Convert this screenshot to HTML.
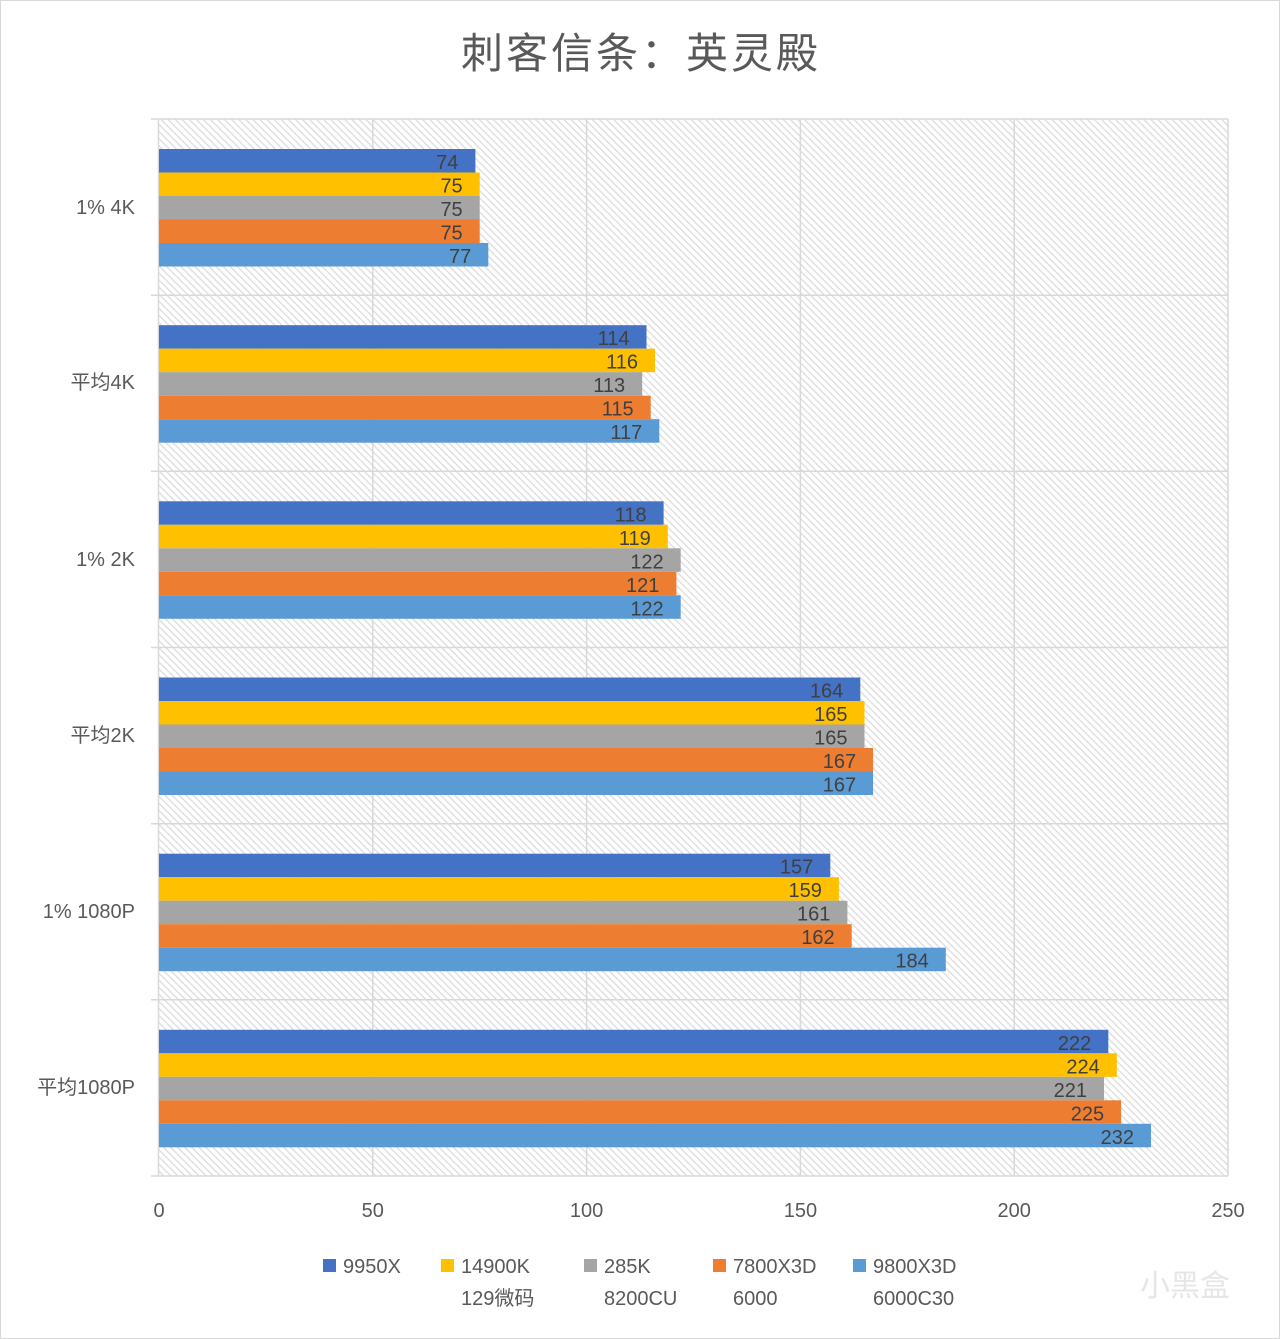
<!DOCTYPE html>
<html><head><meta charset="utf-8"><style>
html,body{margin:0;padding:0;background:#fff}
svg{display:block}
text{font-family:"Liberation Sans","Noto Sans CJK SC",sans-serif}
</style></head><body>
<svg width="1280" height="1339" viewBox="0 0 1280 1339" xmlns="http://www.w3.org/2000/svg">
<defs>
<pattern id="h" width="5" height="5" patternUnits="userSpaceOnUse" patternTransform="rotate(45)">
<rect width="5" height="5" fill="#fff"/>
<rect width="5" height="1.3" fill="#dcdcdc"/>
</pattern>
</defs>
<rect x="0.5" y="0.5" width="1279" height="1338" fill="#fff" stroke="#d9d9d9"/>
<text x="641" y="68" font-size="42" fill="#595959" text-anchor="middle" letter-spacing="3">刺客信条：英灵殿</text>
<rect x="159" y="119" width="1069" height="1057" fill="url(#h)"/>
<g stroke="#d9d9d9" stroke-width="1.5">
<line x1="372.8" y1="119" x2="372.8" y2="1176"/>
<line x1="586.6" y1="119" x2="586.6" y2="1176"/>
<line x1="800.4" y1="119" x2="800.4" y2="1176"/>
<line x1="1014.2" y1="119" x2="1014.2" y2="1176"/>
<line x1="1228" y1="119" x2="1228" y2="1176"/>
<line x1="151" y1="119" x2="1228" y2="119"/>
<line x1="151" y1="295.2" x2="1228" y2="295.2"/>
<line x1="151" y1="471.3" x2="1228" y2="471.3"/>
<line x1="151" y1="647.5" x2="1228" y2="647.5"/>
<line x1="151" y1="823.7" x2="1228" y2="823.7"/>
<line x1="151" y1="999.8" x2="1228" y2="999.8"/>
<line x1="151" y1="1176" x2="1228" y2="1176"/>
<line x1="158.5" y1="119" x2="158.5" y2="1176"/>
</g>
<g font-size="20" fill="#404040" text-anchor="end">
<g transform="translate(0,149)">
<rect x="159" y="0" width="316.4" height="23.5" fill="#4472C4"/>
<rect x="159" y="23.5" width="320.7" height="23.5" fill="#FFC000"/>
<rect x="159" y="47" width="320.7" height="23.5" fill="#A5A5A5"/>
<rect x="159" y="70.5" width="320.7" height="23.5" fill="#ED7D31"/>
<rect x="159" y="94" width="329.3" height="23.5" fill="#5B9BD5"/>
<text x="458.4" y="20">74</text><text x="462.7" y="43.5">75</text><text x="462.7" y="67">75</text><text x="462.7" y="90.5">75</text><text x="471.3" y="114">77</text>
</g>
<g transform="translate(0,325.2)">
<rect x="159" y="0" width="487.5" height="23.5" fill="#4472C4"/>
<rect x="159" y="23.5" width="496" height="23.5" fill="#FFC000"/>
<rect x="159" y="47" width="483.2" height="23.5" fill="#A5A5A5"/>
<rect x="159" y="70.5" width="491.7" height="23.5" fill="#ED7D31"/>
<rect x="159" y="94" width="500.3" height="23.5" fill="#5B9BD5"/>
<text x="629.5" y="20">114</text><text x="638" y="43.5">116</text><text x="625.2" y="67">113</text><text x="633.7" y="90.5">115</text><text x="642.3" y="114">117</text>
</g>
<g transform="translate(0,501.3)">
<rect x="159" y="0" width="504.6" height="23.5" fill="#4472C4"/>
<rect x="159" y="23.5" width="508.8" height="23.5" fill="#FFC000"/>
<rect x="159" y="47" width="521.7" height="23.5" fill="#A5A5A5"/>
<rect x="159" y="70.5" width="517.4" height="23.5" fill="#ED7D31"/>
<rect x="159" y="94" width="521.7" height="23.5" fill="#5B9BD5"/>
<text x="646.6" y="20">118</text><text x="650.8" y="43.5">119</text><text x="663.7" y="67">122</text><text x="659.4" y="90.5">121</text><text x="663.7" y="114">122</text>
</g>
<g transform="translate(0,677.5)">
<rect x="159" y="0" width="701.3" height="23.5" fill="#4472C4"/>
<rect x="159" y="23.5" width="705.5" height="23.5" fill="#FFC000"/>
<rect x="159" y="47" width="705.5" height="23.5" fill="#A5A5A5"/>
<rect x="159" y="70.5" width="714.1" height="23.5" fill="#ED7D31"/>
<rect x="159" y="94" width="714.1" height="23.5" fill="#5B9BD5"/>
<text x="843.3" y="20">164</text><text x="847.5" y="43.5">165</text><text x="847.5" y="67">165</text><text x="856.1" y="90.5">167</text><text x="856.1" y="114">167</text>
</g>
<g transform="translate(0,853.7)">
<rect x="159" y="0" width="671.3" height="23.5" fill="#4472C4"/>
<rect x="159" y="23.5" width="679.9" height="23.5" fill="#FFC000"/>
<rect x="159" y="47" width="688.4" height="23.5" fill="#A5A5A5"/>
<rect x="159" y="70.5" width="692.7" height="23.5" fill="#ED7D31"/>
<rect x="159" y="94" width="786.8" height="23.5" fill="#5B9BD5"/>
<text x="813.3" y="20">157</text><text x="821.9" y="43.5">159</text><text x="830.4" y="67">161</text><text x="834.7" y="90.5">162</text><text x="928.8" y="114">184</text>
</g>
<g transform="translate(0,1029.8)">
<rect x="159" y="0" width="949.3" height="23.5" fill="#4472C4"/>
<rect x="159" y="23.5" width="957.8" height="23.5" fill="#FFC000"/>
<rect x="159" y="47" width="945" height="23.5" fill="#A5A5A5"/>
<rect x="159" y="70.5" width="962.1" height="23.5" fill="#ED7D31"/>
<rect x="159" y="94" width="992" height="23.5" fill="#5B9BD5"/>
<text x="1091.3" y="20">222</text><text x="1099.8" y="43.5">224</text><text x="1087" y="67">221</text><text x="1104.1" y="90.5">225</text><text x="1134" y="114">232</text>
</g>
</g>
<g font-size="20" fill="#595959" text-anchor="end">
<text x="135" y="214">1% 4K</text>
<text x="135" y="389">平均4K</text>
<text x="135" y="566">1% 2K</text>
<text x="135" y="742">平均2K</text>
<text x="135" y="918">1% 1080P</text>
<text x="135" y="1094">平均1080P</text>
</g>
<g font-size="20" fill="#595959" text-anchor="middle">
<text x="159" y="1217">0</text>
<text x="372.8" y="1217">50</text>
<text x="586.6" y="1217">100</text>
<text x="800.4" y="1217">150</text>
<text x="1014.2" y="1217">200</text>
<text x="1228" y="1217">250</text>
</g>
<g font-size="20" fill="#595959">
<rect x="323" y="1259" width="13" height="13" fill="#4472C4"/><text x="343" y="1273">9950X</text>
<rect x="441" y="1259" width="13" height="13" fill="#FFC000"/><text x="461" y="1273">14900K</text><text x="461" y="1305">129微码</text>
<rect x="584" y="1259" width="13" height="13" fill="#A5A5A5"/><text x="604" y="1273">285K</text><text x="604" y="1305">8200CU</text>
<rect x="713" y="1259" width="13" height="13" fill="#ED7D31"/><text x="733" y="1273">7800X3D</text><text x="733" y="1305">6000</text>
<rect x="853" y="1259" width="13" height="13" fill="#5B9BD5"/><text x="873" y="1273">9800X3D</text><text x="873" y="1305">6000C30</text>
</g>
<text x="1140" y="1296" font-size="30" fill="#e6e6e6">小黑盒</text>
</svg>
</body></html>
